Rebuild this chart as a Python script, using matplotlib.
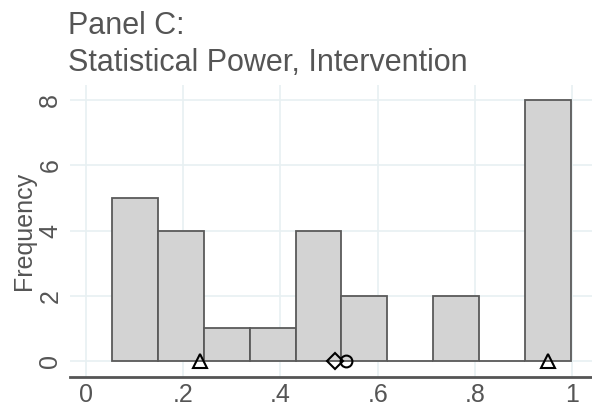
import matplotlib
matplotlib.use("Agg")
import matplotlib.pyplot as plt
import numpy as np

# histogram bins
bin_start = 0.053
bin_width = 0.0945
counts = [5, 4, 1, 1, 4, 2, 0, 2, 0, 8]

# summary markers on the baseline
tri_x = [0.235, 0.951]
diamond_x = [0.513]
circle_x = [0.534]

xticks = [0, 0.2, 0.4, 0.6, 0.8, 1.0]
xtick_labels = ["0", ".2", ".4", ".6", ".8", "1"]
yticks = [0, 2, 4, 6, 8]

plt.rcParams['font.family'] = ['Liberation Sans', 'DejaVu Sans']
txt_col = '#555555'

fig = plt.figure(figsize=(5.92, 4.03), dpi=100)
ax = fig.add_axes([70 / 592, 1 - 377 / 403, 1 - 70 / 592, (377 - 85) / 403])

lefts = bin_start + bin_width * np.arange(len(counts))
ax.bar(lefts, counts, width=bin_width, align='edge', color='#d3d3d3',
       edgecolor='#5a5a5a', linewidth=1.3, zorder=2)

mk = dict(color='black', markerfacecolor='none', markeredgewidth=1.5,
          linestyle='none', zorder=4, clip_on=False)
ax.plot(tri_x, [0] * len(tri_x), marker='^', markersize=10, **mk)
ax.plot(diamond_x, [0] * len(diamond_x), marker='D', markersize=8, **mk)
ax.plot(circle_x, [0] * len(circle_x), marker='o', markersize=8.5, **mk)

ax.set_xlim(-0.033, 1.041)
ax.set_ylim(-0.49, 8.47)

ax.set_xticks(xticks)
ax.set_xticklabels(xtick_labels)
ax.set_yticks(yticks)
ax.tick_params(axis='both', length=0, labelsize=18, colors=txt_col)
ax.tick_params(axis='x', pad=4.5)
ax.tick_params(axis='y', pad=5.5)
for lab in ax.get_yticklabels():
    lab.set_rotation(90)
    lab.set_va('center')

ax.grid(True, color='#e8f0f2', linewidth=1.2, zorder=0)
ax.set_axisbelow(True)
for side in ['top', 'right', 'left']:
    ax.spines[side].set_visible(False)
ax.spines['bottom'].set_color('#555555')
ax.spines['bottom'].set_linewidth(2)

ax.set_ylabel('Frequency', fontsize=18, color=txt_col, labelpad=2)

fig.text(68 / 592, 1 - 11 / 403, 'Panel C:\nStatistical Power, Intervention',
         fontsize=22, color=txt_col, ha='left', va='top', linespacing=1.3)

fig.savefig('out.png', dpi=100)
